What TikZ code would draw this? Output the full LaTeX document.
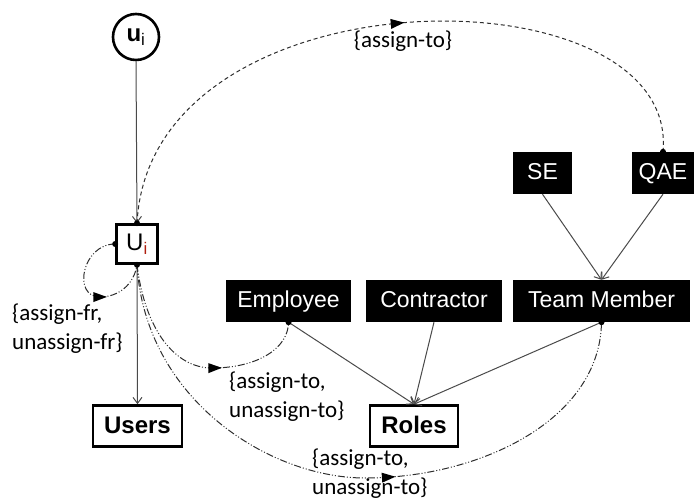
\documentclass[tikz,border=0pt]{standalone}
\usepackage{fontspec}
\setmainfont{Liberation Sans}
\newfontfamily\lblfont{Carlito}
\usetikzlibrary{arrows.meta,decorations.markings}
\definecolor{linegray}{HTML}{4A4A4A}
\definecolor{dashgray}{HTML}{2E2E2E}
\definecolor{subred}{HTML}{B02010}
\begin{document}
\begin{tikzpicture}[x=1pt,y=-1pt,
  blk/.style={fill=black,text=white,font=\fontsize{23}{26}\selectfont,
    inner sep=0pt,minimum height=42,text height=17pt,text depth=5pt},
  wbox/.style={draw=black,line width=2.6pt,fill=white,
    font=\bfseries\fontsize{24}{27}\selectfont,inner sep=0pt,minimum height=41,
    text height=17pt,text depth=3pt},
  link/.style={draw=linegray,line width=1pt,-{Straight Barb[length=6pt,width=9pt]}},
  lbl/.style={font=\lblfont\fontsize{23}{29}\selectfont,align=left,inner sep=0pt,text=black},
  dotdash/.style={draw=dashgray,line width=1pt,
    dash pattern=on 7pt off 2pt on 1pt off 2pt on 1pt off 2pt},
  shortdash/.style={draw=dashgray,line width=1pt,dash pattern=on 4pt off 3pt},
  midarrow/.style={postaction={decorate},decoration={markings,
    mark=at position #1 with {\fill[black,solid] (6.5pt,0pt) -- (-7pt,5pt) -- (-7pt,-5pt) -- cycle;}}},
  enddot/.style={fill=black}
]
\useasboundingbox (0,0) rectangle (694,500);

% user instance and its session object
\node[circle,draw=black,line width=2.6pt,minimum size=46,inner sep=0pt,
  font=\fontsize{24}{27}\selectfont] (uc) at (136,37) {\textbf{u}\textsubscript{i}};
\node[rectangle,draw=black,line width=2.6pt,minimum width=41,minimum height=39,
  inner sep=0pt,font=\fontsize{24}{27}\selectfont] (ui) at (137,244)
  {U\textsubscript{\color{subred}i}};

% sets
\node[wbox,minimum width=89] (users) at (137.5,426) {Users};
\node[wbox,minimum width=88] (roles) at (414,426) {Roles};

% role hierarchy
\node[blk,minimum width=125] (emp) at (288.5,301) {Employee};
\node[blk,minimum width=136] (con) at (434,301) {Contractor};
\node[blk,minimum width=177] (tm) at (601.5,301) {Team Member};
\node[blk,minimum width=59] (se) at (542.5,173) {SE};
\node[blk,minimum width=62] (qae) at (663,173) {QAE};

% solid membership links
\draw[link] (uc.south) -- (ui.north);
\draw[link] (ui.south) -- (users.north);
\draw[link] (emp.south) -- (roles.north);
\draw[link] (con.south) -- (roles.north);
\draw[link] (tm.south) -- (roles.north);
\draw[link] (se.south) -- (tm.north);
\draw[link] (qae.south) -- (tm.north);

% assignment operations
\draw[shortdash,midarrow=0.52] (ui.north) .. controls (150,-33) and (680,-33) .. (qae.north);
\draw[dotdash,midarrow=0.6] (ui.west) .. controls (82,244) and (72,297) .. (100,297)
  .. controls (118,297) and (134,285) .. (ui.south);
\draw[dotdash,midarrow=0.6] (ui.south) .. controls (145,330) and (175,368) .. (212,368)
  .. controls (258,368) and (288.5,348) .. (emp.south);
\draw[dotdash,midarrow=0.56] (ui.south) .. controls (145,400) and (270,478) .. (365,478)
  .. controls (480,478) and (600,420) .. (tm.south);

% end dots
\foreach \p in {ui.north,ui.west,ui.south,qae.north,emp.south,tm.south}
  \fill[enddot] (\p) circle (3);

% operation labels
\node[lbl,anchor=center] (l1) at (403,41) {\{assign-to\}};
\node[lbl,anchor=west] (l2) at (12,329) {\{assign-fr,\\unassign-fr\}};
\node[lbl,anchor=west] (l3) at (229,397) {\{assign-to,\\unassign-to\}};
\node[lbl,anchor=west] (l4) at (312,474) {\{assign-to,\\unassign-to\}};
\end{tikzpicture}
\end{document}
